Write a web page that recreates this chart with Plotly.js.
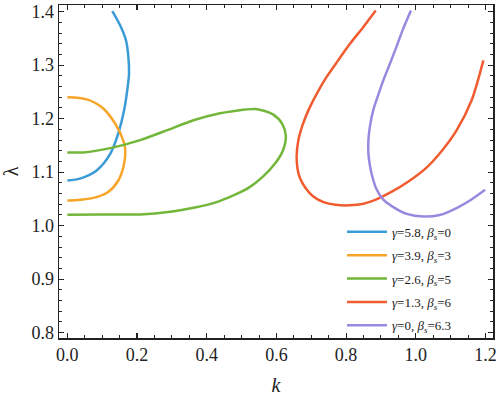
<!DOCTYPE html>
<html><head><meta charset="utf-8">
<script src="https://cdn.plot.ly/plotly-3.0.1.min.js"></script>
<style>html,body{margin:0;padding:0;background:#fff}</style>
</head><body><div id="plot" style="width:498px;height:398px"></div>
<script>
const names = [
  "<i>γ</i>=5.8, <i>β<sub>s</sub></i>=0",
  "<i>γ</i>=3.9, <i>β<sub>s</sub></i>=3",
  "<i>γ</i>=2.6, <i>β<sub>s</sub></i>=5",
  "<i>γ</i>=1.3, <i>β<sub>s</sub></i>=6",
  "<i>γ</i>=0, <i>β<sub>s</sub></i>=6.3"
];
const colors = ["#3b9bd6", "#f7a528", "#72b63a", "#f05c30", "#9a88e0"];
const xTicks = [0, 0.2, 0.4, 0.6, 0.8, 1.0, 1.2];
const xTickText = ["0.0", "0.2", "0.4", "0.6", "0.8", "1.0", "1.2"];
const yTicks = [0.8, 0.9, 1.0, 1.1, 1.2, 1.3, 1.4];
const yTickText = ["0.8", "0.9", "1.0", "1.1", "1.2", "1.3", "1.4"];

const k1 = [0.0, 0.036, 0.084, 0.123, 0.146, 0.163, 0.173, 0.177, 0.175, 0.168, 0.151, 0.129];
const l1 = [1.0845, 1.088, 1.103, 1.134, 1.172, 1.216, 1.259, 1.284, 1.316, 1.347, 1.375, 1.401];

const k2 = [0, 0.056, 0.103, 0.137, 0.157, 0.166, 0.162, 0.145, 0.115, 0.075, 0.030, 0];
const l2 = [1.240, 1.236, 1.219, 1.191, 1.165, 1.143, 1.113, 1.083, 1.062, 1.052, 1.048, 1.047];

const k3 = [0, 0.046, 0.123, 0.209, 0.285, 0.362, 0.438, 0.48, 0.54, 0.59, 0.617, 0.627, 0.619, 0.596, 0.562, 0.521, 0.475, 0.424, 0.366, 0.295, 0.209, 0.094, 0];
const l3 = [1.137, 1.137, 1.145, 1.160, 1.178, 1.197, 1.210, 1.2145, 1.218, 1.208, 1.190, 1.168, 1.141, 1.116, 1.092, 1.071, 1.056, 1.043, 1.034, 1.026, 1.021, 1.021, 1.0205];

const k4 = [0.885, 0.848, 0.811, 0.776, 0.744, 0.716, 0.692, 0.675, 0.663, 0.658, 0.661, 0.668, 0.683, 0.705, 0.735, 0.77, 0.81, 0.85, 0.89, 0.93, 0.98, 1.03, 1.075, 1.117, 1.160, 1.194];
const l4 = [1.402, 1.370, 1.340, 1.308, 1.278, 1.247, 1.216, 1.188, 1.160, 1.128, 1.105, 1.088, 1.071, 1.055, 1.044, 1.039, 1.038, 1.041, 1.050, 1.063, 1.083, 1.108, 1.140, 1.178, 1.234, 1.309];

const k5 = [0.986, 0.962, 0.942, 0.924, 0.907, 0.892, 0.878, 0.869, 0.864, 0.864, 0.869, 0.876, 0.886, 0.905, 0.932, 0.974, 1.022, 1.069, 1.117, 1.160, 1.199];
const l5 = [1.402, 1.365, 1.330, 1.300, 1.272, 1.244, 1.216, 1.188, 1.160, 1.135, 1.110, 1.090, 1.070, 1.050, 1.036, 1.022, 1.017, 1.020, 1.033, 1.049, 1.067];

const ks = [k1, k2, k3, k4, k5];
const ls = [l1, l2, l3, l4, l5];

const traces = ks.map((k, i) => ({
  x: k, y: ls[i], type: "scatter", mode: "lines", name: names[i],
  legendgroup: "g" + i,
  line: {color: colors[i], width: 2.5, shape: "spline", smoothing: 0.8}
}));
// empty trace so the minor-tick overlay axes are drawn
traces.unshift({x: [], y: [], type: "scatter", mode: "lines", xaxis: "x2", yaxis: "y2", showlegend: false, hoverinfo: "skip"});

const xRange = [-0.024, 1.2216];
const yRange = [0.790, 1.4125];
const SERIF = "Liberation Serif";

function mainAxis(range, tv, tt, titleText, standoff) {
  return {
    range: range, tickmode: "array", tickvals: tv, ticktext: tt,
    showgrid: false, zeroline: false, showline: true, linecolor: "#222", linewidth: 1.5,
    mirror: "ticks", ticks: "inside", ticklen: 5, tickwidth: 1.2, tickcolor: "#222",
    tickfont: {family: SERIF, size: 18, color: "#222"},
    title: {text: titleText, font: {family: SERIF, size: 20, color: "#222"}, standoff: standoff}
  };
}
function minorAxis(range, step, over, side) {
  return {
    range: range, overlaying: over, side: side, tickmode: "linear", tick0: 0, dtick: step,
    showgrid: false, zeroline: false, showline: false, showticklabels: false,
    mirror: "ticks", ticks: "inside", ticklen: 3, tickwidth: 1, tickcolor: "#222"
  };
}

const layout = {
  width: 498, height: 398,
  margin: {l: 59, r: 5, t: 5, b: 60},
  paper_bgcolor: "#fff", plot_bgcolor: "#fff",
  showlegend: true,
  font: {family: SERIF, size: 18, color: "#222"},
  xaxis: mainAxis(xRange, xTicks, xTickText, "<i>k</i>", 14),
  yaxis: mainAxis(yRange, yTicks, yTickText, "λ", 10),
  xaxis2: minorAxis(xRange, 0.05, "x", "bottom"),
  yaxis2: minorAxis(yRange, 0.02, "y", "left"),
  legend: {
    x: 0.652, y: 0.364, xanchor: "left", yanchor: "top",
    bgcolor: "rgba(255,255,255,0)", borderwidth: 0,
    itemwidth: 40,
    traceorder: "grouped", tracegroupgap: 3.5,
    font: {family: SERIF, size: 13, color: "#222"}
  }
};
Plotly.newPlot("plot", traces, layout, {staticPlot: true, displayModeBar: false}).then(function (gd) {
  gd.querySelectorAll("g.xtick text, g.ytick text").forEach(function (t) {
    t.style.fontFamily = SERIF;
  });
  gd.querySelectorAll("text.xtitle, text.ytitle").forEach(function (t) {
    t.style.fontFamily = SERIF;
  });
});
</script></body></html>
